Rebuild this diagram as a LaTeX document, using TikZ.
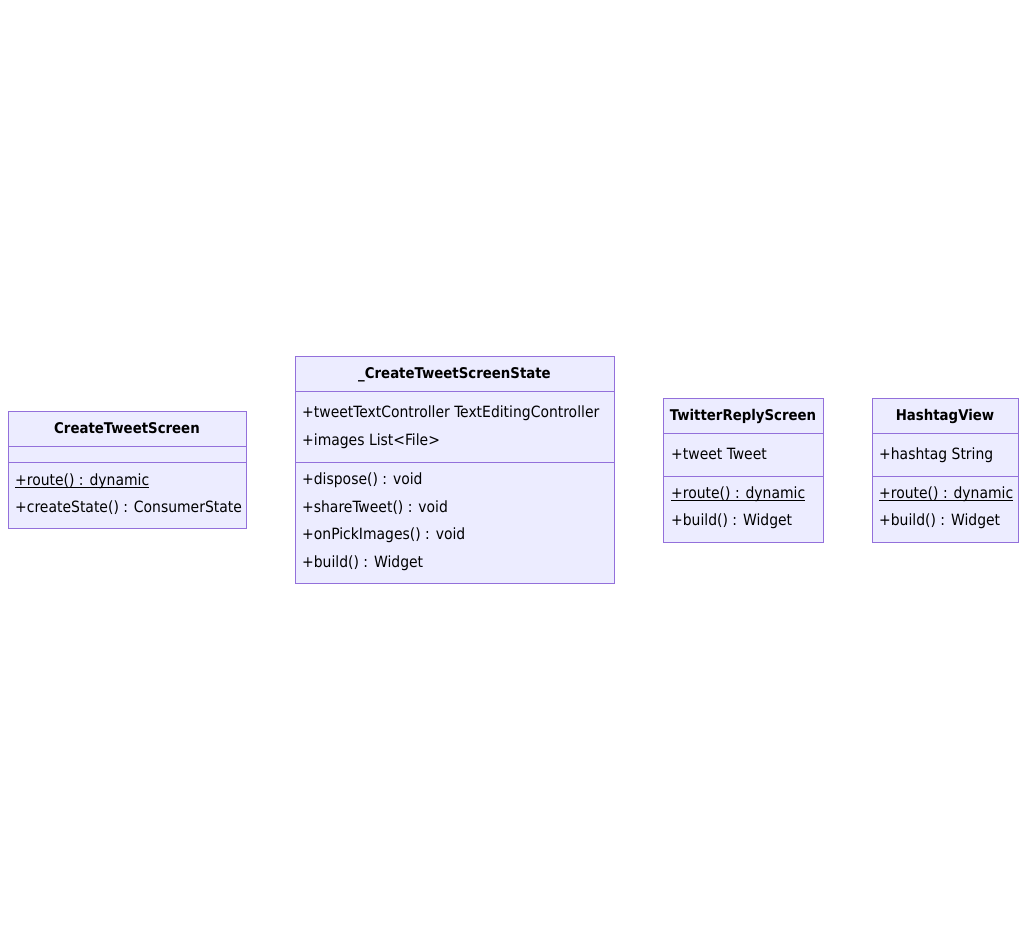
\documentclass[tikz,border=0pt]{standalone}
\usepackage{fontspec}
\setmainfont{DejaVu Sans Condensed}
\usepackage{tikz}
\definecolor{umlfill}{HTML}{ECECFF}
\definecolor{umlline}{HTML}{9370DB}
\tikzset{
  classbox/.style={draw=umlline, fill=umlfill, line width=0.9pt},
  divider/.style={draw=umlline, line width=0.9pt},
  title/.style={font=\bfseries\fontsize{14.8}{17}\selectfont, anchor=base, inner sep=0pt},
  member/.style={font=\fontsize{15.5}{18}\selectfont, anchor=base west, inner sep=0pt},
  static/.style={line width=0.8pt},
}

\begin{document}
\begin{tikzpicture}[x=1pt, y=-1pt]
  \useasboundingbox (0, 0) rectangle (1026, 939);

  % CreateTweetScreen
  \draw[classbox] (8, 411) rectangle (246, 528);
  \draw[divider] (8, 446) -- (246, 446);
  \draw[divider] (8, 462) -- (246, 462);
  \node[title] at (127, 433) (cts) {CreateTweetScreen};
  \node[member] at (15, 485) (ctsroute) {+route() : dynamic};
  \node[member] at (15, 512) (ctsstate) {+createState() : ConsumerState};
  \draw[static] ([yshift=-2pt]ctsroute.base west) -- ([yshift=-2pt]ctsroute.base east);

  % _CreateTweetScreenState
  \draw[classbox] (295, 356) rectangle (614, 583);
  \draw[divider] (295, 391) -- (614, 391);
  \draw[divider] (295, 462) -- (614, 462);
  \node[title] at (454.5, 378) (ctss) {\_CreateTweetScreenState};
  \node[member] at (302, 417) (ctssctrl) {+tweetTextController TextEditingController};
  \node[member] at (302, 445) (ctssimg) {+images List<File>};
  \node[member] at (302, 484) (ctssdispose) {+dispose() : void};
  \node[member] at (302, 512) (ctssshare) {+shareTweet() : void};
  \node[member] at (302, 539) (ctsspick) {+onPickImages() : void};
  \node[member] at (302, 567) (ctssbuild) {+build() : Widget};

  % TwitterReplyScreen
  \draw[classbox] (663, 398) rectangle (823, 542);
  \draw[divider] (663, 433) -- (823, 433);
  \draw[divider] (663, 476) -- (823, 476);
  \node[title] at (743, 420) (trs) {TwitterReplyScreen};
  \node[member] at (671, 459) (trstweet) {+tweet Tweet};
  \node[member] at (671, 498) (trsroute) {+route() : dynamic};
  \node[member] at (671, 525) (trsbuild) {+build() : Widget};
  \draw[static] ([yshift=-2pt]trsroute.base west) -- ([yshift=-2pt]trsroute.base east);

  % HashtagView
  \draw[classbox] (872, 398) rectangle (1018, 542);
  \draw[divider] (872, 433) -- (1018, 433);
  \draw[divider] (872, 476) -- (1018, 476);
  \node[title] at (945, 420) (hv) {HashtagView};
  \node[member] at (879, 459) (hvtag) {+hashtag String};
  \node[member] at (879, 498) (hvroute) {+route() : dynamic};
  \node[member] at (879, 525) (hvbuild) {+build() : Widget};
  \draw[static] ([yshift=-2pt]hvroute.base west) -- ([yshift=-2pt]hvroute.base east);
\end{tikzpicture}
\end{document}
